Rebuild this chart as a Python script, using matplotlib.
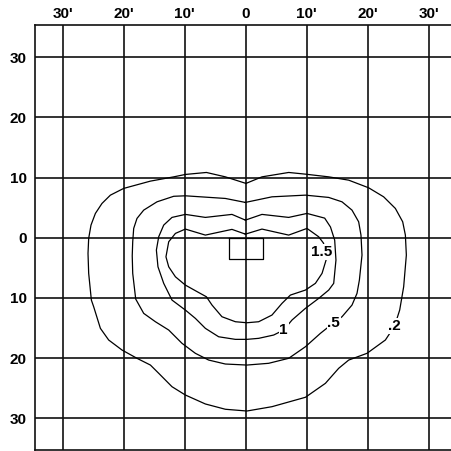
import matplotlib
matplotlib.use("Agg")
import matplotlib.pyplot as plt

# grid ticks (degrees) and their labels
x_ticks = [-30, -20, -10, 0, 10, 20, 30]
x_labels = ["30'", "20'", "10'", "0", "10'", "20'", "30'"]
y_ticks = [30, 20, 10, 0, -10, -20, -30]
y_labels = ["30", "20", "10", "0", "10", "20", "30"]

# isodose contours (x, y in degrees)
c02_x = [0.05, -3.33, -6.44, -9.88, -11.8, -15.62, -20.0, -22.18, -23.56, -24.64, -25.36, -25.74,
         -25.85, -25.74, -25.3, -24.92, -23.82, -22.46, -20.28, -17.82, -15.62, -14.26, -12.08, -9.89,
         -6.61, -3.33, 0.2, 4.31, 9.79, 13.07, 15.25, 16.89, 19.89, 22.9, 24.4, 25.25, 25.9, 26.34,
         26.18, 25.74, 24.54, 22.62, 20.16, 16.89, 13.61, 9.79, 7.05, 2.67, 0.05]
c02_y = [9.04, 10.13, 10.86, 10.53, 10.13, 9.42, 8.21, 7.09, 5.71, 4.05, 2.11, -0.1,
         -2.59, -5.91, -10.35, -11.46, -15.05, -16.99, -18.65, -20.03, -21.15, -22.52, -24.75, -26.13,
         -27.62, -28.5, -28.79, -28.07, -26.51, -24.19, -21.69, -20.32, -19.2, -16.99, -14.7, -12.0, -8.14, -2.87,
         0.45, 2.66, 4.88, 6.81, 8.31, 9.58, 10.13, 10.58, 10.86, 10.13, 9.04]

c05_x = [-0.05, -3.33, -9.89, -11.8, -14.54, -16.72, -17.82, -18.36, -18.52, -18.6, -18.52, -18.03,
         -16.72, -14.8, -12.62, -10.44, -8.25, -6.07, -3.33, 0.2, 3.77, 7.05, 9.79, 12.25, 14.43, 15.79,
         17.43, 18.25, 18.64, 19.07, 18.9, 18.52, 17.43, 15.79, 13.61, 9.79, 4.31, -0.05]
c05_y = [5.88, 6.54, 6.98, 6.9, 5.98, 4.6, 3.22, 1.56, -0.66, -3.0, -5.91, -10.18,
         -12.56, -13.95, -15.33, -17.54, -19.2, -20.32, -20.98, -21.15, -20.86, -20.03, -18.11, -15.88, -14.12, -13.12,
         -11.18, -9.24, -7.03, -2.87, 0.45, 2.66, 4.6, 5.98, 6.71, 7.09, 6.81, 5.88]

c1_x = [-0.05, -2.25, -6.61, -9.89, -12.08, -13.44, -14.26, -14.64, -14.38, -13.44, -12.08, -9.89,
        -8.25, -6.61, -4.43, -1.69, 0.2, 2.13, 4.59, 6.23, 7.59, 9.79, 11.97, 13.61, 14.43, 14.8,
        14.59, 13.9, 12.95, 10.05, 7.05, 2.67, -0.05]
c1_y = [2.94, 3.89, 3.39, 3.89, 3.39, 2.11, 0.17, -2.04, -4.82, -7.57, -10.35, -12.01,
        -13.39, -15.05, -16.45, -16.88, -16.88, -16.71, -16.16, -15.33, -13.67, -11.73, -10.07, -8.69,
        -7.57, -3.7, -0.38, 1.8, 3.27, 4.05, 3.39, 3.89, 2.94]

c15_x = [-0.05, -2.25, -6.61, -9.89, -11.52, -12.62, -13.07, -12.62, -11.52, -9.89, -7.7, -6.44,
         -5.52, -3.89, -1.69, 0.2, 2.13, 4.31, 5.95, 7.33, 9.79, 11.43, 12.52, 13.18, 12.41, 12.79,
         11.97, 10.05, 7.05, 2.67, -0.05]
c15_y = [0.61, 1.4, 0.45, 1.45, 0.73, -0.66, -3.16, -4.82, -6.48, -7.86, -9.1, -9.8,
         -11.18, -13.12, -13.95, -14.12, -13.95, -12.84, -10.9, -9.52, -8.69, -7.57, -5.91, -3.7, -2.33, -0.93,
         0.17, 1.56, 0.45, 1.45, 0.61]

contours = [(c02_x, c02_y), (c05_x, c05_y), (c1_x, c1_y), (c15_x, c15_y)]
label_text = [".2", ".5", "1", "1.5"]
label_x = [24.4, 14.43, 6.23, 12.41]
label_y = [-14.7, -14.12, -15.33, -2.33]

# source rectangle in the centre
rect_x = [-2.7, 2.8, 2.8, -2.7, -2.7]
rect_y = [0, 0, -3.6, -3.6, 0]

plt.rcParams['font.family'] = ['Liberation Sans', 'DejaVu Sans']

fig = plt.figure(figsize=(4.51, 4.51), dpi=100)
ax = fig.add_axes([35 / 451, 1 / 451, 416 / 451, 425 / 451])

ax.set_xlim(-34.54, 33.66)
ax.set_ylim(-35.27, 35.37)

for v in x_ticks:
    ax.axvline(v, color='#111111', lw=1.2, zorder=1)
for v in y_ticks:
    ax.axhline(v, color='#111111', lw=1.2, zorder=1)

for cx, cy in contours:
    ax.plot(cx, cy, color='black', lw=0.9, zorder=2, solid_joinstyle='round')

ax.plot(rect_x, rect_y, color='black', lw=0.9, zorder=2)

for t, lx, ly in zip(label_text, label_x, label_y):
    ax.text(lx, ly, t, ha='center', va='center', fontsize=11, fontweight='bold', zorder=3,
            bbox=dict(facecolor='white', edgecolor='none', pad=0.5))

ax.set_xticks(x_ticks)
ax.set_xticklabels(x_labels, fontsize=11, fontweight='bold')
ax.xaxis.tick_top()
ax.set_yticks(y_ticks)
ax.set_yticklabels(y_labels, fontsize=11, fontweight='bold')
ax.tick_params(axis='x', length=0, pad=3)
ax.tick_params(axis='y', length=0, pad=6)

ax.spines['right'].set_visible(False)
for s in ['top', 'left', 'bottom']:
    ax.spines[s].set_linewidth(1.2)
    ax.spines[s].set_color('#111111')

fig.savefig('out.png', dpi=100)
